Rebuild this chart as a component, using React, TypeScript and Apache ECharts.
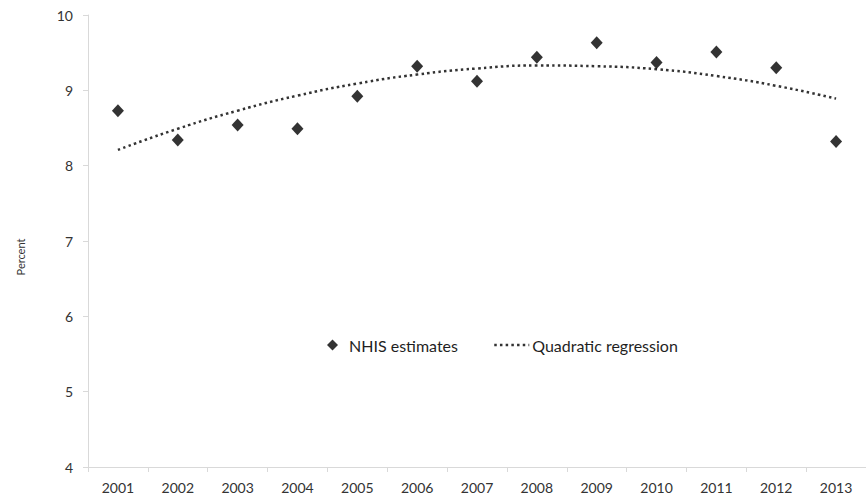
import React, { useEffect, useRef } from "react";
import * as echarts from "echarts";

const years = ["2001", "2002", "2003", "2004", "2005", "2006", "2007", "2008", "2009", "2010", "2011", "2012", "2013"];
const nhisEstimates = [8.73, 8.34, 8.54, 8.49, 8.92, 9.32, 9.12, 9.44, 9.63, 9.37, 9.51, 9.3, 8.32];
const quadraticRegression = [8.21, 8.49, 8.73, 8.93, 9.09, 9.21, 9.29, 9.33, 9.32, 9.28, 9.19, 9.06, 8.89];
const yMin = 4;
const yMax = 10;
const yInterval = 1;
const yAxisTitle = "Percent";
const seriesNames = ["NHIS estimates", "Quadratic regression"];

const FONT = "Lato, 'Noto Sans', sans-serif";

export default function App() {
  const ref = useRef<HTMLDivElement>(null);
  useEffect(() => {
    if (!ref.current) return;
    const chart = echarts.init(ref.current, undefined, { renderer: "svg" });
    chart.setOption({
      animation: false,
      backgroundColor: "#ffffff",
      textStyle: { fontFamily: FONT },
      grid: { left: 88, top: 15, bottom: 33, right: -8.5, containLabel: false },
      legend: [
        {
          data: [seriesNames[0]],
          left: 322,
          top: 332,
          itemWidth: 11,
          itemHeight: 11,
          itemStyle: { color: "#000000" },
          textStyle: { fontFamily: FONT, fontSize: 16, color: "#1f1f1f", padding: [0, 0, 0, 6] },
        },
        {
          data: [seriesNames[1]],
          left: 488,
          top: 332,
          itemWidth: 35,
          itemHeight: 12,
          itemStyle: { opacity: 0 },
          lineStyle: { color: "#333333", width: 2.5, type: [2.5, 3.2] },
          textStyle: { fontFamily: FONT, fontSize: 16, color: "#1f1f1f", padding: [0, 0, 0, -2] },
        },
      ],
      xAxis: {
        type: "category",
        data: years,
        boundaryGap: true,
        axisLine: { show: true, lineStyle: { color: "#d9d9d9", width: 1 } },
        axisTick: { show: true, length: 5, lineStyle: { color: "#d9d9d9" } },
        axisLabel: { fontFamily: FONT, fontSize: 14, color: "#333333", margin: 13 },
        splitLine: { show: false },
      },
      yAxis: {
        type: "value",
        min: yMin,
        max: yMax,
        interval: yInterval,
        axisLine: { show: true, lineStyle: { color: "#d9d9d9", width: 1 } },
        axisTick: { show: true, length: 5, lineStyle: { color: "#d9d9d9" } },
        axisLabel: { fontFamily: FONT, fontSize: 14, color: "#333333", margin: 15 },
        splitLine: { show: false },
      },
      graphic: [
        {
          type: "text",
          x: 20,
          y: 257,
          rotation: Math.PI / 2,
          style: {
            text: yAxisTitle,
            fontFamily: FONT,
            fontSize: 11,
            fill: "#333333",
            align: "center",
            verticalAlign: "middle",
          },
        },
      ],
      series: [
        {
          name: seriesNames[1],
          type: "line",
          data: quadraticRegression,
          smooth: true,
          symbol: "none",
          lineStyle: { color: "#333333", width: 2.5, type: [2.5, 3.2], cap: "butt" },
          itemStyle: { color: "#333333" },
          z: 2,
        },
        {
          name: seriesNames[0],
          type: "scatter",
          data: nhisEstimates,
          symbol: "diamond",
          symbolSize: [12, 13],
          itemStyle: { color: "#000000" },
          z: 3,
        },
      ],
    });
    return () => chart.dispose();
  }, []);
  return (
    <div
      ref={ref}
      style={{ position: "fixed", left: 0, top: 0, width: 866, height: 500, background: "#fff" }}
    />
  );
}
